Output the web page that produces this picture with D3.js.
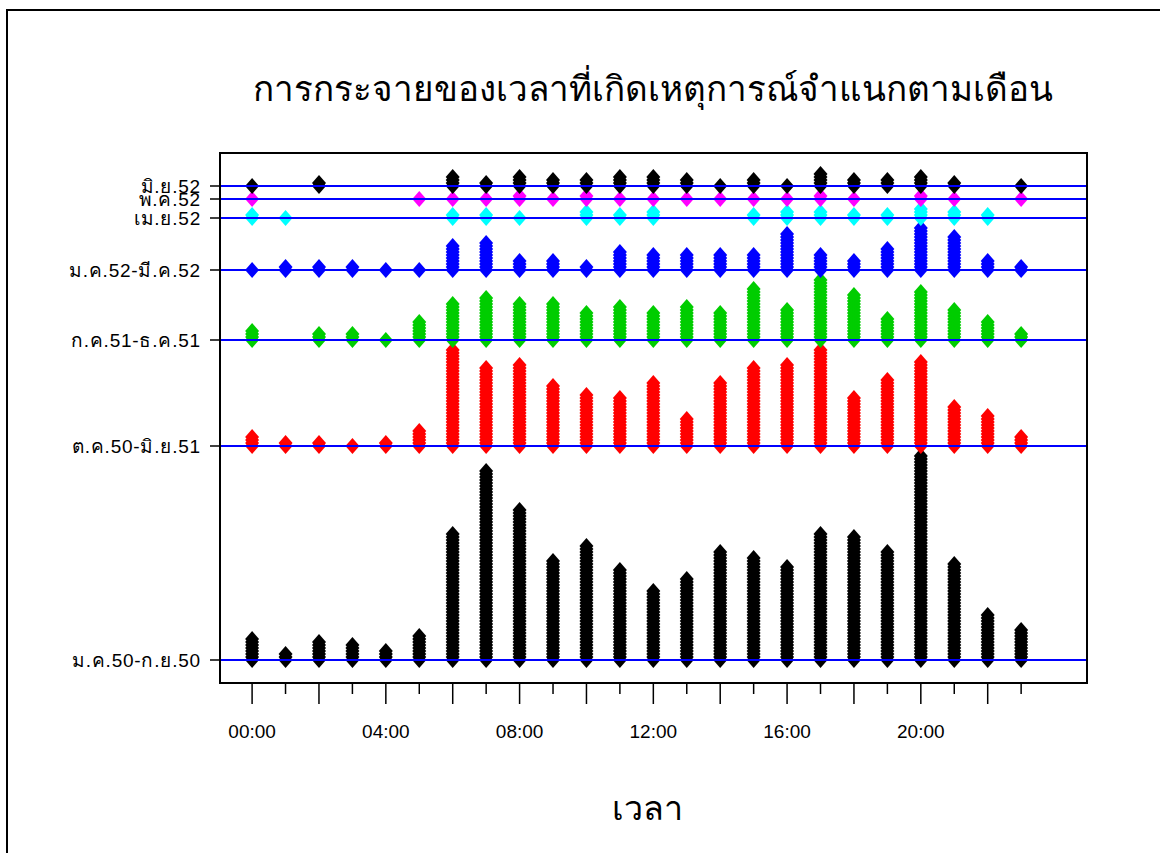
<!DOCTYPE html>
<html>
<head>
<meta charset="utf-8">
<script src="https://cdn.jsdelivr.net/npm/d3@7"></script>
<style>
  html, body { margin: 0; padding: 0; background: #fff; }
  svg { display: block; }
  text { font-family: "Liberation Sans", Arial, "Noto Sans", sans-serif; fill: #000; }
</style>
</head>
<body>
<svg id="chart" width="1160" height="853"></svg>
<script>
// ---------- data ----------
const hours = [0,1,2,3,4,5,6,7,8,9,10,11,12,13,14,15,16,17,18,19,20,21,22,23];
const hourLabels = ["00:00","04:00","08:00","12:00","16:00","20:00"];
const labelHours = [0,4,8,12,16,20];

const groupLabels = ["ม.ค.50-ก.ย.50","ต.ค.50-มิ.ย.51","ก.ค.51-ธ.ค.51","ม.ค.52-มี.ค.52","เม.ย.52","พ.ค.52","มิ.ย.52"];
const groupColors = ["#000000","#FF0000","#00CD00","#0000FF","#00FFFF","#FF00FF","#000000"];

const countsJan50Sep50 = [8,3,7,6,4,9,43,64,51,34,39,31,24,28,37,35,32,43,42,37,69,33,16,11];
const countsOct50Jun51 = [4,2,2,1,2,6,33,27,28,21,18,17,22,10,22,27,28,33,17,23,29,14,11,4];
const countsJul51Dec51 = [4,0,3,3,1,7,13,15,13,13,10,12,10,12,10,18,11,21,16,8,17,11,7,3];
const countsJan52Mar52 = [1,2,2,2,1,1,9,10,4,4,2,7,6,6,6,6,13,6,4,8,15,12,4,2];
const countsApr52      = [2,1,0,0,0,0,2,2,1,0,3,2,3,0,0,2,3,3,2,2,4,3,2,0];
const countsMay52      = [1,0,0,0,0,1,1,1,2,1,2,1,1,1,1,1,1,2,1,0,2,1,0,1];
const countsJun52      = [1,0,2,0,0,0,4,2,4,3,3,4,4,3,1,3,1,5,3,3,4,2,0,1];

const groupCounts = [countsJan50Sep50, countsOct50Jun51, countsJul51Dec51, countsJan52Mar52, countsApr52, countsMay52, countsJun52];

const titleText = "การกระจายของเวลาที่เกิดเหตุการณ์จำแนกตามเดือน";
const xTitle = "เวลา";

// ---------- layout ----------
const plot = { left: 220, right: 1087, top: 153, bottom: 683 };
const gapPad = 7 / 3;           // spacing between stacked groups (in count units)

// group baselines derived from the data (each group sits above the tallest stack of the previous one)
const bases = [];
groupCounts.forEach((c, k) => {
  if (k === 0) bases.push(0);
  else bases.push(bases[k - 1] + d3.max(groupCounts[k - 1]) + gapPad);
});

const x = d3.scaleLinear().domain([-0.96, 24.97]).range([plot.left, plot.right]);
const y = d3.scaleLinear().domain([-23 / 3, 169]).range([plot.bottom, plot.top]);

const svg = d3.select("#chart");

// outer frame
svg.append("rect").attr("x", 7).attr("y", 10).attr("width", 1170).attr("height", 860)
  .attr("fill", "none").attr("stroke", "#000").attr("stroke-width", 2);

// title
svg.append("text").attr("x", 653).attr("y", 101).attr("text-anchor", "middle")
  .style("font-size", "35px").text(titleText);

// points
const hw = 7, hh = 8;
const diamond = `M0,${-hh}L${hw},0L0,${hh}L${-hw},0Z`;
groupCounts.forEach((counts, k) => {
  const pts = [];
  hours.forEach((h, i) => {
    for (let j = 0; j < counts[i]; j++) pts.push({ h, v: bases[k] + j });
  });
  svg.append("g").selectAll("path").data(pts).join("path")
    .attr("d", diamond)
    .attr("transform", d => `translate(${x(d.h)},${y(d.v)})`)
    .attr("fill", groupColors[k]);
});

// baselines
svg.append("g").selectAll("line").data(bases).join("line")
  .attr("x1", plot.left).attr("x2", plot.right)
  .attr("y1", d => y(d)).attr("y2", d => y(d))
  .attr("stroke", "#0000FF").attr("stroke-width", 2);

// box
svg.append("rect").attr("x", plot.left).attr("y", plot.top)
  .attr("width", plot.right - plot.left).attr("height", plot.bottom - plot.top)
  .attr("fill", "none").attr("stroke", "#000").attr("stroke-width", 2);

// y axis ticks + labels
const yAxis = svg.append("g");
bases.forEach((b, k) => {
  yAxis.append("line").attr("x1", plot.left - 10).attr("x2", plot.left)
    .attr("y1", y(b)).attr("y2", y(b)).attr("stroke", "#000").attr("stroke-width", 1.5);
  yAxis.append("text").attr("x", 201).attr("y", y(b)).attr("dy", "0.35em")
    .attr("text-anchor", "end").style("font-size", "19px").style("letter-spacing", "0.8px")
    .text(groupLabels[k]);
});

// x axis ticks
const xAxis = svg.append("g");
hours.forEach(h => {
  const len = h % 2 === 0 ? 21 : 11;
  xAxis.append("line").attr("x1", x(h)).attr("x2", x(h))
    .attr("y1", plot.bottom).attr("y2", plot.bottom + len)
    .attr("stroke", "#000").attr("stroke-width", 1.5);
});
labelHours.forEach((h, i) => {
  xAxis.append("text").attr("x", x(h)).attr("y", 738).attr("text-anchor", "middle")
    .style("font-size", "19px").text(hourLabels[i]);
});

svg.append("text").attr("x", 647).attr("y", 820).attr("text-anchor", "middle")
  .style("font-size", "34px").text(xTitle);
</script>
</body>
</html>
